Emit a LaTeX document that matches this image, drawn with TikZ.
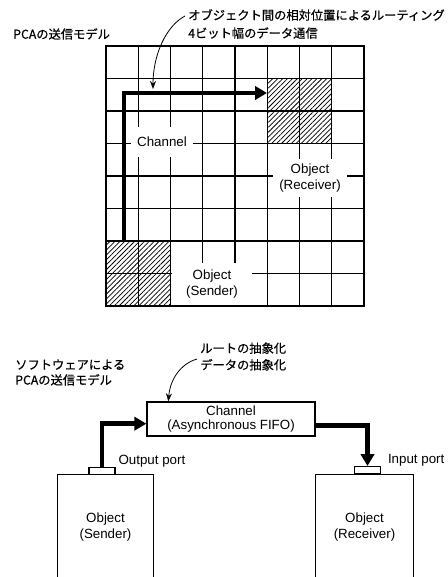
\documentclass[tikz,border=0pt]{standalone}
\usepackage{fontspec}
\setmainfont{Liberation Sans}
\newfontfamily\jpfont[FakeBold=0.6]{Noto Sans CJK JP}
\usetikzlibrary{arrows.meta,positioning,patterns.meta}

\begin{document}
\begin{tikzpicture}[x=0.75pt,y=-0.75pt,
  gridline/.style={line width=0.9pt},
  hatchcell/.style={pattern={Lines[angle=45,distance=2.6pt,line width=0.55pt]}, minimum width=48.4pt, minimum height=48.75pt, inner sep=0pt},
  celllabel/.style={fill=white, align=center, inner sep=0pt, font=\fontsize{10}{12}\selectfont},
  jplabel/.style={align=left, inner sep=0pt, font=\jpfont\fontsize{9.2}{13.5}\selectfont},
  route/.style={line width=3.4pt, -{Triangle[length=9pt,width=10pt]}},
  callout/.style={line width=0.6pt, -{Stealth[length=6pt,width=4.5pt]}},
  objbox/.style={line width=1pt},
  objtext/.style={align=center, font=\fontsize{10}{12}\selectfont},
  portbox/.style={draw, line width=0.9pt, minimum width=19.5pt, minimum height=5.25pt, inner sep=0pt},
  chbox/.style={draw, line width=1pt, minimum width=126pt, minimum height=25.5pt, align=center, inner sep=1pt, font=\fontsize{10}{11}\selectfont},
  portlabel/.style={inner sep=1pt, font=\fontsize{10}{12}\selectfont}
]
\useasboundingbox (0,0) rectangle (447,577);

% upper part: PCA model on the grid
\node[jplabel, anchor=west] (pcatitle) at (13,34) {PCAの送信モデル};
\node[jplabel, anchor=west] (routenote) at (188,24) {オブジェクト間の相対位置によるルーティング\\4ビット幅のデータ通信};

\node[hatchcell] (sndcell) at (138.25,273.5) {};
\node[hatchcell] (rcvcell) at (299.5,111) {};
\foreach \i in {0,...,8} {
  \draw[gridline] (106+\i*32.25,46) -- (106+\i*32.25,306);
  \draw[gridline] (106,46+\i*32.5) -- (364,46+\i*32.5);
}
\node[celllabel, minimum width=46pt, minimum height=23pt] (chlabel) at (162,142) {Channel};
\node[celllabel, minimum width=55.5pt, minimum height=28pt] (rcvlabel) at (310,178) {Object\\(Receiver)};
\node[celllabel, minimum width=60pt, minimum height=32pt] (sndlabel) at (212,284.5) {Object\\(Sender)};
\draw[gridline] (106,46) rectangle (364,306);

\coordinate (rstart) at (124,241);
\coordinate (rend) at (267,93);
\draw[route] (rstart) |- (rend);
\coordinate (routefrom) at (185,16);
\coordinate (routeto) at (153,89);
\draw[callout] (routefrom) .. controls (166,26) and (153,55) .. (routeto);

% lower part: software model
\node[jplabel, anchor=west, font=\jpfont\fontsize{9.2}{11.5}\selectfont] (swtitle) at (15,372.5) {ソフトウェアによる\\PCAの送信モデル};
\node[jplabel, anchor=west, font=\jpfont\fontsize{9.2}{12.5}\selectfont] (absnote) at (200,356.5) {ルートの抽象化\\データの抽象化};

\node[chbox] (fifo) at (231,419) {Channel\\(Asynchronous FIFO)};
\draw[callout] (197,359) .. controls (180,364) and (170,380) .. ([xshift=16.5pt]fifo.north west);

\node[objtext, minimum width=72pt, minimum height=78.75pt] (sender) at (105.5,527.5) {Object\\(Sender)};
\draw[objbox] (sender.south west) -- (sender.north west) -- (sender.north east) -- (sender.south east);
\node[objtext, minimum width=72.75pt, minimum height=78.75pt] (receiver) at (364.5,527) {Object\\(Receiver)};
\draw[objbox] (receiver.south west) -- (receiver.north west) -- (receiver.north east) -- (receiver.south east);

\node[portbox, anchor=south] (outport) at ([xshift=-2.6pt]sender.north) {};
\node[portbox, anchor=south] (inport) at ([xshift=2.25pt]receiver.north) {};
\node[portlabel, anchor=south west] (outlabel) at ([xshift=1pt,yshift=-2pt]outport.north east) {Output port};
\node[portlabel, anchor=south west] (inlabel) at ([xshift=4pt,yshift=-1pt]inport.north east) {Input port};

\draw[route] (outport.north) |- ([yshift=-3.5pt]fifo.west);
\draw[route] ([yshift=-5pt]fifo.east) -| (inport.north);
\end{tikzpicture}
\end{document}
